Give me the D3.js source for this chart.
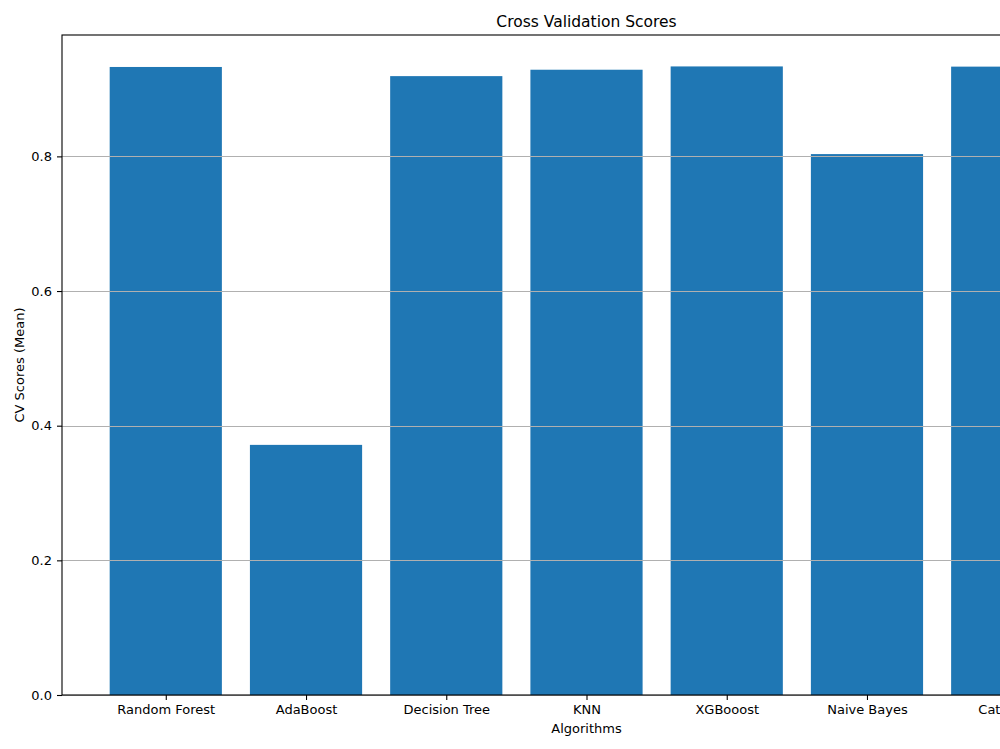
<!DOCTYPE html>
<html>
<head>
<meta charset="utf-8">
<script src="https://cdn.jsdelivr.net/npm/d3@7"></script>
<style>
  html, body { margin: 0; padding: 0; background: #fff; overflow: hidden; }
  svg { display: block; font-family: "DejaVu Sans", sans-serif; }
</style>
</head>
<body>
<div id="chart"></div>
<script>
// data
var algorithms = ['Random Forest', 'AdaBoost', 'Decision Tree', 'KNN', 'XGBooost', 'Naive Bayes', 'CatBoost'];
var cvScores = [0.9328, 0.3715, 0.9192, 0.9287, 0.9336, 0.8034, 0.9333];
var yTicks = [0.0, 0.2, 0.4, 0.6, 0.8];

var WIDTH = 1000,
    HEIGHT = 749;

// the original figure is wider than the picture, the right side is cut off
var margin = {top: 35, left: 62, bottom: 695, right: 1111};

var svg = d3.select('#chart').append('svg')
            .attr('width', WIDTH)
            .attr('height', HEIGHT);

var n = algorithms.length;
var pad = 0.05 * (n - 0.2);
var x = d3.scaleLinear()
          .domain([-0.4 - pad, n - 1 + 0.4 + pad])
          .range([margin.left, margin.right]);

var ymax = d3.max(cvScores) * 1.05;
var y = d3.scaleLinear()
          .domain([0, ymax])
          .range([margin.bottom, margin.top]);

var barW = x(0.8) - x(0);

// bars
svg.append('g').selectAll('rect')
   .data(cvScores)
   .enter()
   .append('rect')
   .attr('x', (d, i) => x(i) - barW / 2)
   .attr('y', d => y(d))
   .attr('width', barW)
   .attr('height', d => y(0) - y(d))
   .attr('fill', '#1f77b4');

// horizontal grid, drawn above the bars like matplotlib does
svg.append('g').selectAll('line')
   .data(yTicks)
   .enter()
   .append('line')
   .attr('x1', margin.left)
   .attr('x2', margin.right)
   .attr('y1', d => Math.round(y(d)) + 0.5)
   .attr('y2', d => Math.round(y(d)) + 0.5)
   .attr('stroke', '#b0b0b0')
   .attr('stroke-width', 1.1);

// axes
var yAxis = d3.axisLeft(y)
              .tickValues(yTicks)
              .tickFormat(d3.format('.1f'))
              .tickSize(5)
              .tickPadding(5);

var xAxis = d3.axisBottom(x)
              .tickValues(d3.range(n))
              .tickFormat(i => algorithms[i])
              .tickSize(5)
              .tickPadding(5);

var gy = svg.append('g')
            .attr('transform', `translate(${margin.left},0)`)
            .call(yAxis);
var gx = svg.append('g')
            .attr('transform', `translate(0,${margin.bottom})`)
            .call(xAxis);

[gx, gy].forEach(g => {
  g.select('.domain').remove();
  g.selectAll('line').attr('stroke', '#000').attr('stroke-width', 1.1);
  g.selectAll('text').attr('fill', '#000').style('font-size', '13px')
   .style('font-family', '"DejaVu Sans", sans-serif');
});

// spines
svg.append('rect')
   .attr('x', margin.left)
   .attr('y', margin.top)
   .attr('width', margin.right - margin.left)
   .attr('height', margin.bottom - margin.top)
   .attr('fill', 'none')
   .attr('stroke', '#000')
   .attr('stroke-width', 1.1);

var cx = (margin.left + margin.right) / 2;

svg.append('text')
   .attr('x', cx)
   .attr('y', 27)
   .attr('text-anchor', 'middle')
   .style('font-size', '15.5px')
   .text('Cross Validation Scores');

svg.append('text')
   .attr('x', cx)
   .attr('y', 733)
   .attr('text-anchor', 'middle')
   .style('font-size', '13px')
   .text('Algorithms');

svg.append('text')
   .attr('transform', `translate(24,${(margin.top + margin.bottom) / 2}) rotate(-90)`)
   .attr('text-anchor', 'middle')
   .style('font-size', '13px')
   .text('CV Scores (Mean)');
</script>
</body>
</html>
